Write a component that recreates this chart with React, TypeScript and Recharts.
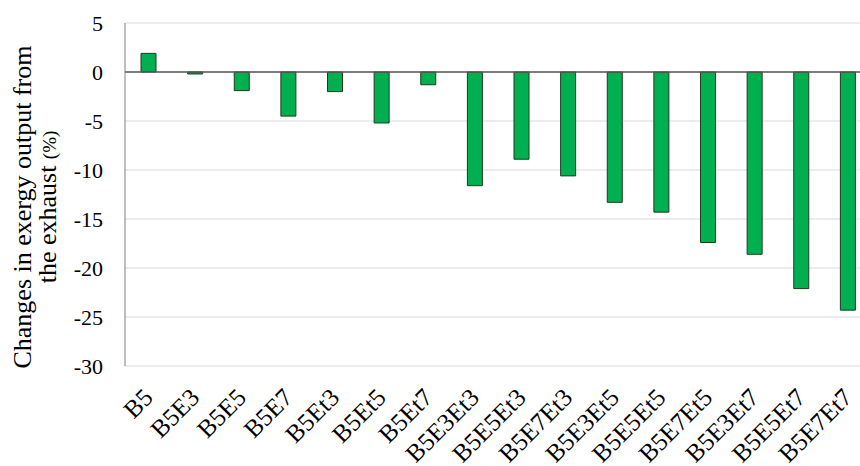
import React from "react";
import { BarChart, Bar, XAxis, YAxis, CartesianGrid, ReferenceLine } from "recharts";

const categories = ["B5", "B5E3", "B5E5", "B5E7", "B5Et3", "B5Et5", "B5Et7", "B5E3Et3", "B5E5Et3", "B5E7Et3", "B5E3Et5", "B5E5Et5", "B5E7Et5", "B5E3Et7", "B5E5Et7", "B5E7Et7"];
const values = [1.9, -0.2, -1.9, -4.5, -2.0, -5.2, -1.3, -11.6, -8.9, -10.6, -13.3, -14.3, -17.4, -18.6, -22.1, -24.3];
const yTicks = [-30, -25, -20, -15, -10, -5, 0, 5];

const data = categories.map((name, i) => ({ name, value: values[i] }));

const FONT = "Liberation Serif";

const XTick = (props: any) => {
  const { x, y, payload } = props;
  return (
    <text
      transform={`translate(${x + 6},${y + 25}) rotate(-45)`}
      textAnchor="end"
      style={{ fontFamily: FONT, fontSize: 25 }}
      fill="#000"
    >
      {payload.value}
    </text>
  );
};

const YLabel = () => (
  <g style={{ fontFamily: FONT }}>
    <text transform="translate(31,207) rotate(-90)" textAnchor="middle" style={{ fontFamily: FONT, fontSize: 26 }} fill="#000">
      Changes in exergy output from
    </text>
    <text transform="translate(56,207) rotate(-90)" textAnchor="middle" style={{ fontFamily: FONT, fontSize: 26 }} fill="#000">
      the exhaust <tspan style={{ fontSize: 19 }}>(%)</tspan>
    </text>
  </g>
);

export default function App() {
  return (
    <div style={{ position: "absolute", left: 0, top: 0, width: 860, height: 466, overflow: "hidden", background: "#fff", fontFamily: FONT }}>
      <BarChart width={872} height={466} data={data} margin={{ top: 23, right: 1, bottom: 0, left: 0 }} style={{ fontFamily: FONT }}>
        <CartesianGrid vertical={false} stroke="#d9d9d9" />
        <XAxis dataKey="name" axisLine={false} tickLine={false} interval={0} height={100} tick={<XTick />} />
        <YAxis
          width={125}
          domain={[-30, 5]}
          ticks={yTicks}
          interval={0}
          tickLine={false}
          axisLine={{ stroke: "#7f7f7f" }}
          tickMargin={16}
          tick={{ fontSize: 22, fill: "#000", style: { fontFamily: FONT } } as any}
          label={{ content: () => <YLabel /> }}
        />
        <ReferenceLine y={0} stroke="#595959" strokeWidth={1.5} />
        <Bar dataKey="value" fill="#00B050" stroke="#1e3a1e" strokeWidth={1} barSize={15} isAnimationActive={false} />
      </BarChart>
    </div>
  );
}
